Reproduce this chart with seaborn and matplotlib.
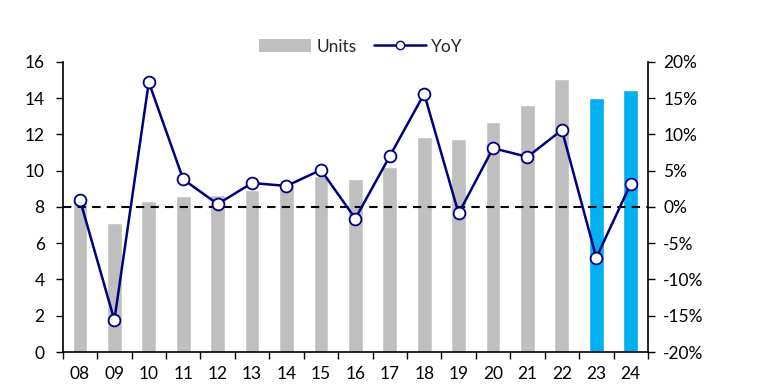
import matplotlib
matplotlib.use("Agg")
import matplotlib.pyplot as plt
import seaborn as sns
import numpy as np
import pandas as pd
from matplotlib.patches import Patch
from matplotlib.lines import Line2D
from matplotlib.ticker import FixedLocator, FuncFormatter

years = ["08", "09", "10", "11", "12", "13", "14", "15", "16", "17", "18", "19", "20", "21", "22", "23", "24"]
units = [8.4, 7.1, 8.33, 8.63, 8.66, 8.96, 9.25, 9.73, 9.56, 10.22, 11.86, 11.75, 12.69, 13.63, 15.04, 14.01, 14.46]
yoy = [1.0, -15.6, 17.2, 3.8, 0.4, 3.3, 2.9, 5.1, -1.6, 7.0, 15.6, -0.9, 8.1, 6.9, 10.6, -7.0, 3.2]
is_forecast = [False] * 15 + [True, True]

GRAY = "#BFBFBF"
BLUE = "#00B0F0"
NAVY = "#000080"

sns.set_style("white")
plt.rcParams["font.family"] = ["Lato", "DejaVu Sans"]
FS = 12.5

df = pd.DataFrame({"year": years, "units": units, "yoy": yoy})
colors = [BLUE if f else GRAY for f in is_forecast]

fig = plt.figure(figsize=(7.65, 3.89), dpi=100)
ax = fig.add_axes([0.082, 0.095, 0.765, 0.746])
sns.barplot(data=df, x="year", y="units", hue="year", palette=colors, legend=False,
            width=0.43, ax=ax, saturation=1)

ax.set_xlim(-0.5, len(years) - 0.5)
ax.set_ylim(0, 16)
ax.set_yticks(range(0, 17, 2))
ax.set_xlabel("")
ax.set_ylabel("")
ax.xaxis.set_minor_locator(FixedLocator(np.arange(-0.5, len(years), 1.0)))
ax.tick_params(axis="x", which="major", length=0, labelsize=FS, pad=10, colors="black")
ax.tick_params(axis="x", which="minor", length=5, width=1, direction="out", bottom=True, color="black")
ax.tick_params(axis="y", length=5, width=1, direction="out", left=True, labelsize=FS, pad=8, colors="black")
for s in ["left", "bottom"]:
    ax.spines[s].set_color("black")
    ax.spines[s].set_linewidth(1.2)
ax.spines["top"].set_visible(False)
ax.spines["right"].set_visible(False)

ax2 = ax.twinx()
xpos = np.arange(len(years))
sns.lineplot(x=xpos, y=yoy, ax=ax2, color=NAVY, linewidth=1.8, marker="o",
             markersize=8.5, markerfacecolor="white", markeredgecolor=NAVY,
             markeredgewidth=1.3, zorder=5)
ax2.axhline(0, color="black", linestyle=(0, (4, 3)), linewidth=1.5, zorder=4)
ax2.set_ylim(-20, 20)
ax2.set_yticks(range(-20, 21, 5))
ax2.yaxis.set_major_formatter(FuncFormatter(lambda v, p: f"{int(v)}%"))
ax2.tick_params(axis="y", length=5, width=1, direction="out", right=True, labelsize=FS, pad=6, colors="black")
ax2.spines["right"].set_visible(True)
ax2.spines["right"].set_color("black")
ax2.spines["right"].set_linewidth(1.2)
ax2.spines["top"].set_visible(False)
ax2.spines["left"].set_visible(False)
ax2.spines["bottom"].set_visible(False)
ax2.set_xlim(-0.5, len(years) - 0.5)

handles = [Patch(facecolor=GRAY, edgecolor="none", label="Units"),
           Line2D([0], [0], color=NAVY, linewidth=1.8, marker="o", markersize=6,
                  markerfacecolor="white", markeredgecolor=NAVY, label="YoY")]
fig.legend(handles=handles, loc="center", bbox_to_anchor=(0.472, 0.88), ncol=2,
           frameon=False, fontsize=FS, handlelength=3.0, handleheight=0.75,
           columnspacing=1.0, handletextpad=0.3)

fig.savefig("out.png", dpi=100)
